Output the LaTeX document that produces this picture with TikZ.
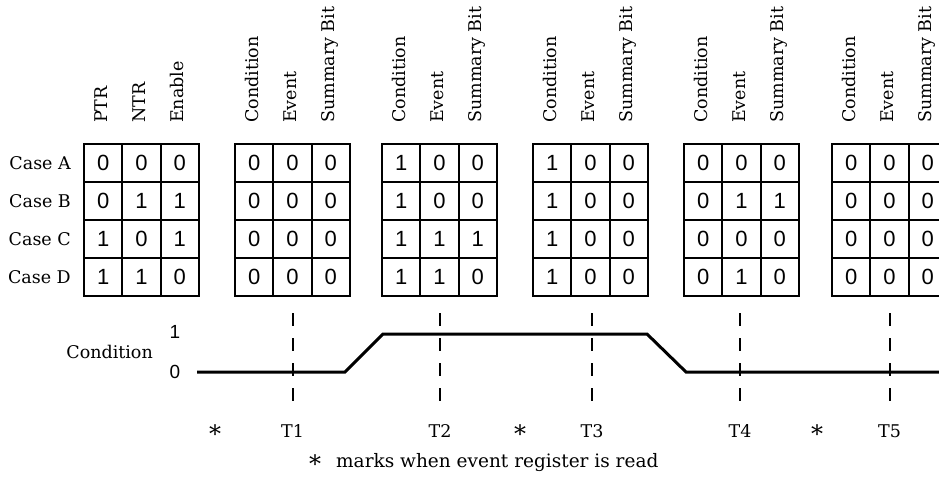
\documentclass[tikz,border=0pt]{standalone}
\usepackage{fontspec}
\setmainfont{DejaVu Serif}
\newfontfamily\digitfont{Liberation Sans}
\newcommand\regrid[6]{%
  \foreach \row [count=\r] in {{#3},{#4},{#5},{#6}} {
    \foreach \v [count=\c] in \row {
      \node[cell] (#1-\r-\c) at ({#2+(\c-0.5)*38.3}, {144+(\r-0.5)*38}) {\v};
    }
  }
}
\newcommand\reghdr[5]{%
  \node[hdr] (#1-h1) at ({#2+0.5*38.3+4}, 123) {#3};
  \node[hdr] (#1-h2) at ({#2+1.5*38.3+4}, 123) {#4};
  \node[hdr] (#1-h3) at ({#2+2.5*38.3+4}, 123) {#5};
}
\begin{document}
\begin{tikzpicture}[x=1pt,y=-1pt,
  cell/.style={draw, line width=2.2pt, minimum width=38.3pt, minimum height=38pt,
    inner sep=0pt, outer sep=0pt, font=\digitfont\fontsize{22}{22}\selectfont},
  hdr/.style={rotate=90, anchor=base west, inner sep=0pt, font=\fontsize{17.5}{17.5}\selectfont},
  lbl/.style={inner sep=0pt, font=\fontsize{17.5}{17.5}\selectfont},
  star/.style={inner sep=0pt, anchor=base, font=\fontsize{24}{24}\selectfont},
  axis/.style={inner sep=0pt, font=\digitfont\fontsize{19}{19}\selectfont},
  dashline/.style={line width=2pt, dash pattern=on 13pt off 12pt},
  wave/.style={line width=3pt, line join=miter}]
\useasboundingbox (0,0) rectangle (939,488);
% registers
\regrid{g1}{84}{0,0,0}{0,1,1}{1,0,1}{1,1,0}
\regrid{g2}{235}{0,0,0}{0,0,0}{0,0,0}{0,0,0}
\regrid{g3}{382}{1,0,0}{1,0,0}{1,1,1}{1,1,0}
\regrid{g4}{533}{1,0,0}{1,0,0}{1,0,0}{1,0,0}
\regrid{g5}{684}{0,0,0}{0,1,1}{0,0,0}{0,1,0}
\regrid{g6}{832}{0,0,0}{0,0,0}{0,0,0}{0,0,0}
% headers
\reghdr{g1}{84}{PTR}{NTR}{Enable}
\reghdr{g2}{235}{Condition}{Event}{Summary Bit}
\reghdr{g3}{382}{Condition}{Event}{Summary Bit}
\reghdr{g4}{533}{Condition}{Event}{Summary Bit}
\reghdr{g5}{684}{Condition}{Event}{Summary Bit}
\reghdr{g6}{832}{Condition}{Event}{Summary Bit}
% case labels
\node[lbl, anchor=east] (caseA) at (71,163) {Case A};
\node[lbl, anchor=east] (caseB) at (71,201) {Case B};
\node[lbl, anchor=east] (caseC) at (71,239) {Case C};
\node[lbl, anchor=east] (caseD) at (71,277) {Case D};
% condition waveform
\node[lbl, anchor=east] (condlbl) at (153,352) {Condition};
\node[axis] (one) at (175,332) {1};
\node[axis] (zero) at (175,372) {0};
\coordinate (w0) at (197,372);
\coordinate (w1) at (345,372);
\coordinate (w2) at (383,334);
\coordinate (w3) at (647,334);
\coordinate (w4) at (686,372);
\coordinate (w5) at (945,372);
\draw[wave] (w0) -- (w1) -- (w2) -- (w3) -- (w4) -- (w5);
% time markers
\foreach \i/\x in {1/292.5,2/440,3/592,4/740,5/889.5} {
  \coordinate (t\i top) at (\x,313);
  \coordinate (t\i bot) at (\x,412);
  \draw[dashline] (t\i top) -- (t\i bot);
  \node[lbl, anchor=base] (T\i) at (\x,437) {T\i};
}
\foreach \i/\x in {1/215,2/520,3/817} {
  \node[star] (star\i) at (\x,442) {*};
}
% footnote
\node[star] (fstar) at (315,472) {*};
\node[inner sep=0pt, anchor=base west, font=\fontsize{18.5}{18.5}\selectfont] (foot) at (336,467) {marks when event register is read};
\end{tikzpicture}
\end{document}
